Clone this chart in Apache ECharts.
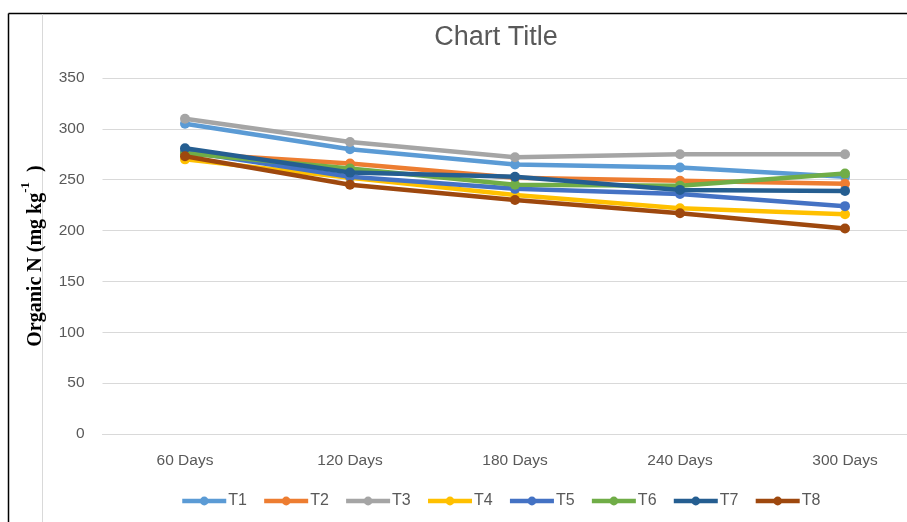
<!DOCTYPE html>
<html>
<head>
<meta charset="utf-8">
<style>
  html, body { margin: 0; padding: 0; background: #fff; overflow: hidden; width: 907px; height: 522px; }
  #chart { width: 930px; height: 522px; }
</style>
<script src="https://cdn.jsdelivr.net/npm/echarts@6/dist/echarts.min.js"></script>
</head>
<body>
<div id="chart"></div>
<script>
// Sampling times
const categories = ['60 Days', '120 Days', '180 Days', '240 Days', '300 Days'];

// Organic N (mg kg-1) per treatment
const T1 = [305, 280, 265, 262, 253];
const T2 = [276, 266, 252, 249, 246];
const T3 = [310, 287, 272, 275, 275];
const T4 = [270, 252, 235, 222, 216];
const T5 = [278, 253, 241, 236, 224];
const T6 = [276, 261, 245, 244, 256];
const T7 = [281, 257, 253, 240, 239];
const T8 = [273, 245, 230, 217, 202];

const seriesNames = ['T1', 'T2', 'T3', 'T4', 'T5', 'T6', 'T7', 'T8'];
const seriesValues = [T1, T2, T3, T4, T5, T6, T7, T8];
const colors = ['#5B9BD5', '#ED7D31', '#A5A5A5', '#FFC000', '#4472C4', '#70AD47', '#255E91', '#9E480E'];

const labelFont = 'Liberation Sans, Arial, sans-serif';
const serifFont = 'Liberation Serif, Times New Roman, serif';

const chart = echarts.init(document.getElementById('chart'));

chart.setOption({
  animation: false,
  color: colors,
  title: {
    text: 'Chart Title',
    left: 496,
    textAlign: 'center',
    top: 24,
    padding: 0,
    textStyle: { fontFamily: labelFont, fontSize: 27, fontWeight: 'normal', color: '#595959' }
  },
  legend: {
    data: seriesNames,
    bottom: 13,
    left: 180,
    padding: 0,
    itemWidth: 44,
    itemHeight: 11,
    itemGap: 15,
    lineStyle: { width: 4.5 },
    textStyle: { fontFamily: labelFont, fontSize: 16, color: '#595959', padding: [0, 0, 0, -3] }
  },
  grid: { left: 102.5, right: 2.5, top: 78, bottom: 88 },
  xAxis: {
    type: 'category',
    data: categories,
    boundaryGap: true,
    axisLine: { lineStyle: { color: '#d9d9d9', width: 1 } },
    axisTick: { show: false },
    axisLabel: { margin: 19, fontFamily: labelFont, fontSize: 15.5, color: '#595959' }
  },
  yAxis: {
    type: 'value',
    min: 0,
    max: 350,
    interval: 50,
    axisLine: { show: false },
    axisTick: { show: false },
    axisLabel: { margin: 18, fontFamily: labelFont, fontSize: 15.5, color: '#595959' },
    splitLine: { lineStyle: { color: '#d9d9d9', width: 1 } },
    name: '{a|Organic N (mg kg}{s|-1}{a|  )}',
    nameLocation: 'middle',
    nameGap: 57,
    nameRotate: 90,
    nameTextStyle: {
      rich: {
        a: { fontFamily: serifFont, fontSize: 20, fontWeight: 'bold', color: '#000', verticalAlign: 'bottom', lineHeight: 26 },
        s: { fontFamily: serifFont, fontSize: 13, fontWeight: 'bold', color: '#000', verticalAlign: 'top', lineHeight: 26, padding: [0, 0, 14, 0] }
      }
    }
  },
  graphic: [
    { type: 'line', shape: { x1: 8.5, y1: 13.5, x2: 930, y2: 13.5 }, style: { stroke: '#000', lineWidth: 1.5 }, silent: true },
    { type: 'line', shape: { x1: 8.5, y1: 13.5, x2: 8.5, y2: 522 }, style: { stroke: '#000', lineWidth: 1.5 }, silent: true },
    { type: 'line', shape: { x1: 42.5, y1: 14, x2: 42.5, y2: 522 }, style: { stroke: '#d9d9d9', lineWidth: 1 }, silent: true }
  ],
  series: seriesNames.map((name, i) => ({
    name: name,
    type: 'line',
    data: seriesValues[i],
    symbol: 'circle',
    symbolSize: 10,
    lineStyle: { width: 4.5, color: colors[i] },
    itemStyle: { color: colors[i] },
    z: 2 + i
  }))
});
</script>
</body>
</html>
